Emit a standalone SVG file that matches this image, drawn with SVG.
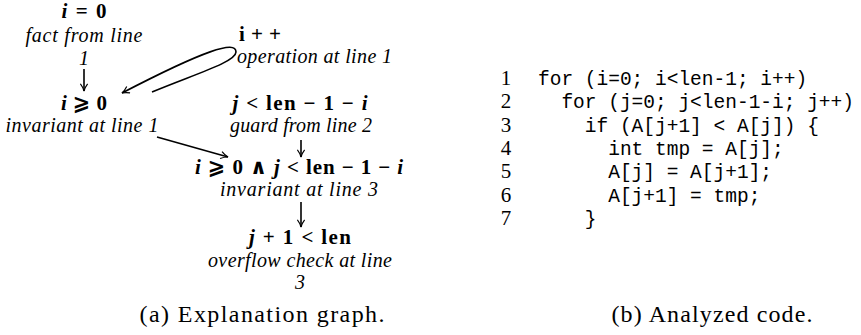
<svg xmlns="http://www.w3.org/2000/svg" width="861" height="335" viewBox="0 0 861 335">
<style>
.m{font-family:"Liberation Serif","DejaVu Serif","DejaVu Sans",serif;font-weight:bold;font-size:21px;fill:#000}
.v{font-style:italic}
.it{font-family:"Liberation Serif","DejaVu Serif",serif;font-style:italic;font-size:20px;fill:#000}
.cap{font-family:"Liberation Serif","DejaVu Serif",serif;font-size:24px;fill:#000}
.code{font-family:"Liberation Mono","DejaVu Sans Mono",monospace;font-size:19.5px;fill:#000}
.num{font-family:"Liberation Serif","DejaVu Serif",serif;font-size:21px;fill:#000}
.e{fill:none;stroke:#000;stroke-width:1.6}
</style>
<defs>
<marker id="ah" viewBox="0 0 10 10" refX="9" refY="5" markerWidth="9" markerHeight="9" markerUnits="userSpaceOnUse" orient="auto">
<path d="M1,1 Q5,4 9,5 Q5,6 1,9" fill="none" stroke="#000" stroke-width="1.3"/>
</marker>
</defs>
<g id="n1">
<text class="m" x="84" y="18" text-anchor="middle" textLength="45"><tspan class="v">i</tspan> = 0</text>
<text class="it" x="84" y="42" text-anchor="middle" textLength="117">fact from line</text>
<text class="it" x="84" y="65" text-anchor="middle">1</text>
</g>
<g id="n2">
<text class="m" x="84" y="110" text-anchor="middle" textLength="46"><tspan class="v">i</tspan> ⩾ 0</text>
<text class="it" x="82" y="132" text-anchor="middle" textLength="153">invariant at line 1</text>
</g>
<g id="n3">
<text class="m" x="239" y="41" textLength="42">i + +</text>
<text class="it" x="237" y="63" textLength="155">operation at line 1</text>
</g>
<g id="n4">
<text class="m" x="300" y="110" text-anchor="middle" textLength="135"><tspan class="v">j</tspan> &lt; len − 1 − <tspan class="v">i</tspan></text>
<text class="it" x="301" y="132" text-anchor="middle" textLength="142">guard from line 2</text>
</g>
<g id="n5">
<text class="m" x="299" y="174" text-anchor="middle" textLength="208"><tspan class="v">i</tspan> ⩾ 0 ∧ <tspan class="v">j</tspan> &lt; len − 1 − <tspan class="v">i</tspan></text>
<text class="it" x="299" y="196" text-anchor="middle" textLength="158">invariant at line 3</text>
</g>
<g id="n6">
<text class="m" x="300" y="244" text-anchor="middle" textLength="102"><tspan class="v">j</tspan> + 1 &lt; len</text>
<text class="it" x="300" y="267" text-anchor="middle" textLength="184">overflow check at line</text>
<text class="it" x="300" y="289" text-anchor="middle">3</text>
</g>
<g id="edges">
<path class="e" d="M84,69 V91" marker-end="url(#ah)"/>
<path class="e" d="M152,92 C195,74 236,62 236,52 C236,40 205,50 122,93" marker-end="url(#ah)"/>
<path class="e" d="M157,137 L228,157" marker-end="url(#ah)"/>
<path class="e" d="M301,140 V157" marker-end="url(#ah)"/>
<path class="e" d="M301,202 V227" marker-end="url(#ah)"/>
</g>
<text class="cap" x="262" y="322" text-anchor="middle" textLength="245">(a) Explanation graph.</text>
<g id="code">
<text class="num" x="506" y="85" text-anchor="middle">1</text>
<text class="num" x="506" y="108" text-anchor="middle">2</text>
<text class="num" x="506" y="132" text-anchor="middle">3</text>
<text class="num" x="506" y="155" text-anchor="middle">4</text>
<text class="num" x="506" y="178" text-anchor="middle">5</text>
<text class="num" x="506" y="202" text-anchor="middle">6</text>
<text class="num" x="506" y="225" text-anchor="middle">7</text>
<text class="code" x="538" y="85" xml:space="preserve">for (i=0; i&lt;len-1; i++)</text>
<text class="code" x="538" y="108" xml:space="preserve">  for (j=0; j&lt;len-1-i; j++)</text>
<text class="code" x="538" y="132" xml:space="preserve">    if (A[j+1] &lt; A[j]) {</text>
<text class="code" x="538" y="155" xml:space="preserve">      int tmp = A[j];</text>
<text class="code" x="538" y="178" xml:space="preserve">      A[j] = A[j+1];</text>
<text class="code" x="538" y="202" xml:space="preserve">      A[j+1] = tmp;</text>
<text class="code" x="538" y="225" xml:space="preserve">    }</text>
</g>
<text class="cap" x="712" y="322" text-anchor="middle" textLength="201">(b) Analyzed code.</text>
</svg>
